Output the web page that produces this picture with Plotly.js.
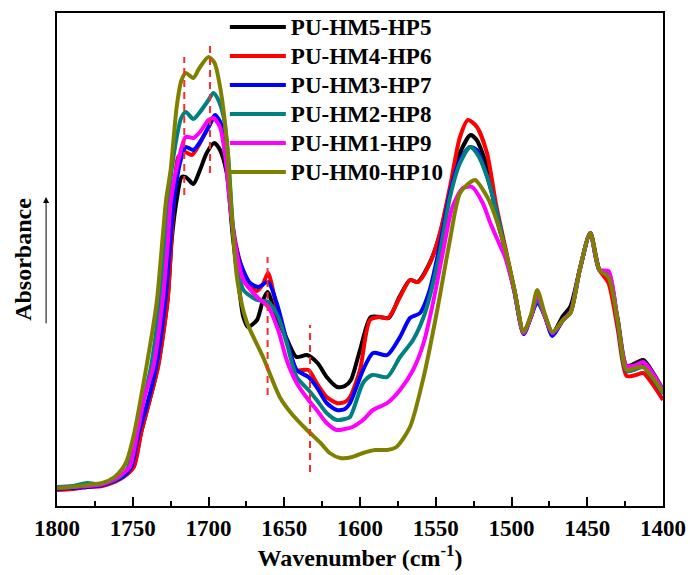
<!DOCTYPE html>
<html><head><meta charset="utf-8">
<script src="https://cdn.plot.ly/plotly-3.0.1.min.js"></script>
<style>html,body{margin:0;padding:0;background:#fff}#chart{width:690px;height:575px}</style>
</head><body><div id="chart"></div>
<script>
const seriesNames = ['PU-HM5-HP5','PU-HM4-HP6','PU-HM3-HP7','PU-HM2-HP8','PU-HM1-HP9','PU-HM0-HP10'];
const seriesColors = ['#000000','#ff0000','#0000ff','#008080','#ff00ff','#808000'];

const wnHM5 = [1800,1790,1780,1770,1762,1756,1749.6,1744.6,1739,1733.5,1727,1724.3,1721,1717.7,1715,1710,1705.6,1701.2,1696.2,1692.4,1688,1684,1680,1677,1674,1668,1664,1661,1655,1648,1642,1635,1628,1622,1615,1610,1606,1600,1593,1587,1581,1574,1567,1562,1554,1547,1541,1534,1527,1523,1516,1510,1504,1498,1492,1487,1483,1478,1473,1466,1461,1455,1448,1442,1436,1430,1424,1418,1413,1406,1400];
const absHM5 = [17,18,20,21,25,30,39,73,105,139,206,266,306,329,329,322,336,353,363,356,333,270,220,189,179,186,206,214,189,166,149,151,143,129,119,120,126,156,189,189,188,209,226,224,243,273,313,353,371,366,339,290,255,215,174,190,208,190,173,190,200,236,273,236,228,188,140,143,146,132,116];

const wnHM4 = [1800,1790,1780,1770,1762,1756,1749.3,1744.5,1739,1733.3,1727,1723.5,1720,1715.5,1711,1705.6,1700,1695.7,1691.3,1688,1684,1679,1674,1668,1664,1660.7,1655,1648.4,1641.8,1634,1628.6,1622,1615.4,1610,1606.6,1600,1593.4,1587,1581.5,1573.6,1567,1561.7,1553.8,1547.2,1540.6,1534,1528.7,1522.8,1516.2,1510,1504,1498,1492,1487,1483,1478,1473,1466,1461,1455,1448,1442,1436,1430,1424,1418,1413,1406,1400];
const absHM4 = [16,17,19,20,24,29,39,73,105,139,206,290,349,354,351,363,379,389,379,350,280,243,222,215,222,233,199,166,136,136,123,109,103,104,109,136,186,189,188,209,226,224,243,273,319,369,386,379,353,300,258,215,172,190,209,190,172,186,194,236,273,236,223,178,130,131,133,120,106];

const wnHM3 = [1800,1790,1780,1770,1762,1756,1751,1746,1740,1734.6,1728.5,1722.8,1718.5,1715,1710,1705.6,1700,1695.7,1691,1688,1684,1679,1672.6,1667.3,1660.7,1655,1648.4,1641.8,1634,1628.6,1622,1615.4,1610,1606.6,1598,1591.4,1582,1573.6,1567,1560.4,1554,1547,1540.6,1534,1527.4,1523,1516,1510,1504,1498,1492,1487,1483,1478,1473,1466,1461,1455,1448,1442,1436,1430,1424,1418,1413,1406,1400];
const absHM3 = [17,18,19,21,25,30,39,73,105,139,206,306,345,359,356,364,379,391,380,355,276,243,223,219,224,203,166,136,129,119,103,96,97,103,136,153,151,169,188,193,216,263,313,346,359,356,329,295,255,214,172,190,204,190,170,186,194,236,273,236,232,185,135,137,140,126,112];

const wnHM2 = [1800,1790,1780,1775,1770,1762,1757,1753,1748,1743,1738,1732,1728,1726.5,1722,1718,1715,1710,1705.6,1700,1696.8,1693.5,1690,1687,1684,1680,1677,1668,1660.5,1654,1648.4,1641.8,1634,1628.6,1622,1615.4,1610,1606.6,1598,1592,1582,1573.6,1565,1558,1554,1547,1540.6,1534,1527.4,1523,1516,1510,1504,1498,1492,1487,1483,1478,1473,1466,1461,1455,1448,1442,1436,1430,1424,1418,1413,1406,1400];
const absHM2 = [19,20,23,22,22,26,31,39,73,105,139,206,270,306,360,388,394,387,394,406,413,406,389,350,282,235,216,206,204,189,163,129,116,106,93,86,87,89,123,131,129,149,166,189,209,256,309,343,359,353,329,295,255,214,173,190,207,190,173,186,194,236,273,236,234,185,135,137,139,126,112];

const wnHM1 = [1800,1790,1780,1770,1762,1757,1752,1747,1742,1736.4,1730.2,1727,1724.8,1720,1715,1710,1705.6,1700,1696.8,1692.4,1689,1685,1681,1677,1668,1660.5,1654,1648.4,1641.8,1634,1628.6,1622,1615.4,1610,1605,1598,1591.4,1582,1573.6,1565,1558,1551,1545,1539,1532,1526,1519,1514,1508,1504,1498,1492,1487,1483,1478,1473,1466,1461,1455,1448,1442,1436,1430,1424,1418,1413,1406,1400];
const absHM1 = [18,19,20,22,27,32,39,73,110,139,206,260,306,345,369,368,374,386,388,379,350,290,250,226,209,199,176,146,123,106,96,83,76,77,79,86,96,103,116,136,163,209,256,299,318,319,303,283,262,248,214,173,190,212,190,173,186,194,236,273,236,235,186,140,141,144,131,115];

const wnHM0 = [1800,1790,1780,1770,1762,1757,1754,1749,1745,1741,1737,1734,1730,1728,1725,1721,1718,1715,1710,1706,1700,1696,1692,1688,1684,1681,1675,1664,1653,1645,1635,1626,1620,1613,1605,1598,1590,1582,1576,1567,1558,1549,1541,1534,1527,1524,1516,1513,1504,1498,1492,1487,1483,1478,1473,1466,1461,1455,1448,1442,1436,1430,1424,1418,1413,1406,1400];
const absHM0 = [18,19,21,23,29,37,45,73,105,139,175,206,273,306,336,399,425,433,428,438,449,443,416,366,276,226,185,149,109,92,76,63,53,48,49,53,56,56,59,79,129,196,263,313,324,326,309,299,256,216,174,192,216,192,174,186,193,236,273,236,229,186,136,138,139,127,113];

const markerWn = [1716, 1699, 1661, 1633];
const markerLow = [311, 333, 111, 34];
const markerHigh = [449, 464, 249, 181];

const xTickVals = [1800,1750,1700,1650,1600,1550,1500,1450,1400];

const wnAll = [wnHM5, wnHM4, wnHM3, wnHM2, wnHM1, wnHM0];
const absAll = [absHM5, absHM4, absHM3, absHM2, absHM1, absHM0];

const FONT = 'Liberation Serif, Times New Roman, serif';

const traces = seriesNames.map((name, i) => ({
  type: 'scatter', mode: 'lines',
  name: '<span style="font-size:23px">' + name + '</span>',
  x: wnAll[i], y: absAll[i],
  line: {color: seriesColors[i], width: 4, shape: 'spline', smoothing: 0.7}
}));

const shapes = markerWn.map((w, i) => ({
  type: 'line', xref: 'x', yref: 'y',
  x0: w, x1: w, y0: markerLow[i], y1: markerHigh[i],
  line: {color: '#ff2a2a', width: 2, dash: '7px,5px'}
}));

const layout = {
  width: 690, height: 575,
  margin: {l: 57, r: 27, t: 13, b: 69, autoexpand: false},
  paper_bgcolor: '#fff', plot_bgcolor: '#fff',
  font: {family: FONT, size: 22, color: '#000', weight: 'bold'},
  showlegend: true,
  legend: {
    x: 0.277, xref: 'paper', y: 0.987, yref: 'container', xanchor: 'left', yanchor: 'top',
    bgcolor: 'rgba(0,0,0,0)', borderwidth: 0,
    font: {family: FONT, size: 20, color: '#000', weight: 'bold'},
    itemwidth: 56
  },
  xaxis: {
    range: [1800, 1400],
    tickvals: xTickVals,
    ticks: 'inside', ticklen: 9, tickwidth: 2, tickcolor: '#000',
    minor: {dtick: 25, tick0: 1400, ticks: 'inside', ticklen: 5, tickwidth: 2, tickcolor: '#000'},
    showline: true, linecolor: '#000', linewidth: 2, mirror: true,
    showgrid: false, zeroline: false,
    ticklabelstandoff: 0,
    tickfont: {family: FONT, size: 23, color: '#000', weight: 'bold'},
    title: {text: 'Wavenumber (cm<sup>-1</sup>)', font: {family: FONT, size: 24, color: '#000', weight: 'bold'}, standoff: 2}
  },
  yaxis: {
    range: [0, 493],
    showticklabels: false, ticks: '',
    showline: true, linecolor: '#000', linewidth: 2, mirror: true,
    showgrid: false, zeroline: false,
    title: {text: 'Absorbance', font: {family: FONT, size: 24, color: '#000', weight: 'bold'}, standoff: 17}
  },
  shapes: shapes,
  annotations: [{
    xref: 'paper', yref: 'paper', x: -0.018, y: 0.627,
    axref: 'pixel', ayref: 'pixel', ax: 0, ay: 128,
    text: '', showarrow: true, arrowhead: 2, arrowsize: 1.2, arrowwidth: 1, arrowcolor: '#000'
  }]
};

Plotly.newPlot('chart', traces, layout, {displayModeBar: false, staticPlot: true});
</script>
</body></html>
